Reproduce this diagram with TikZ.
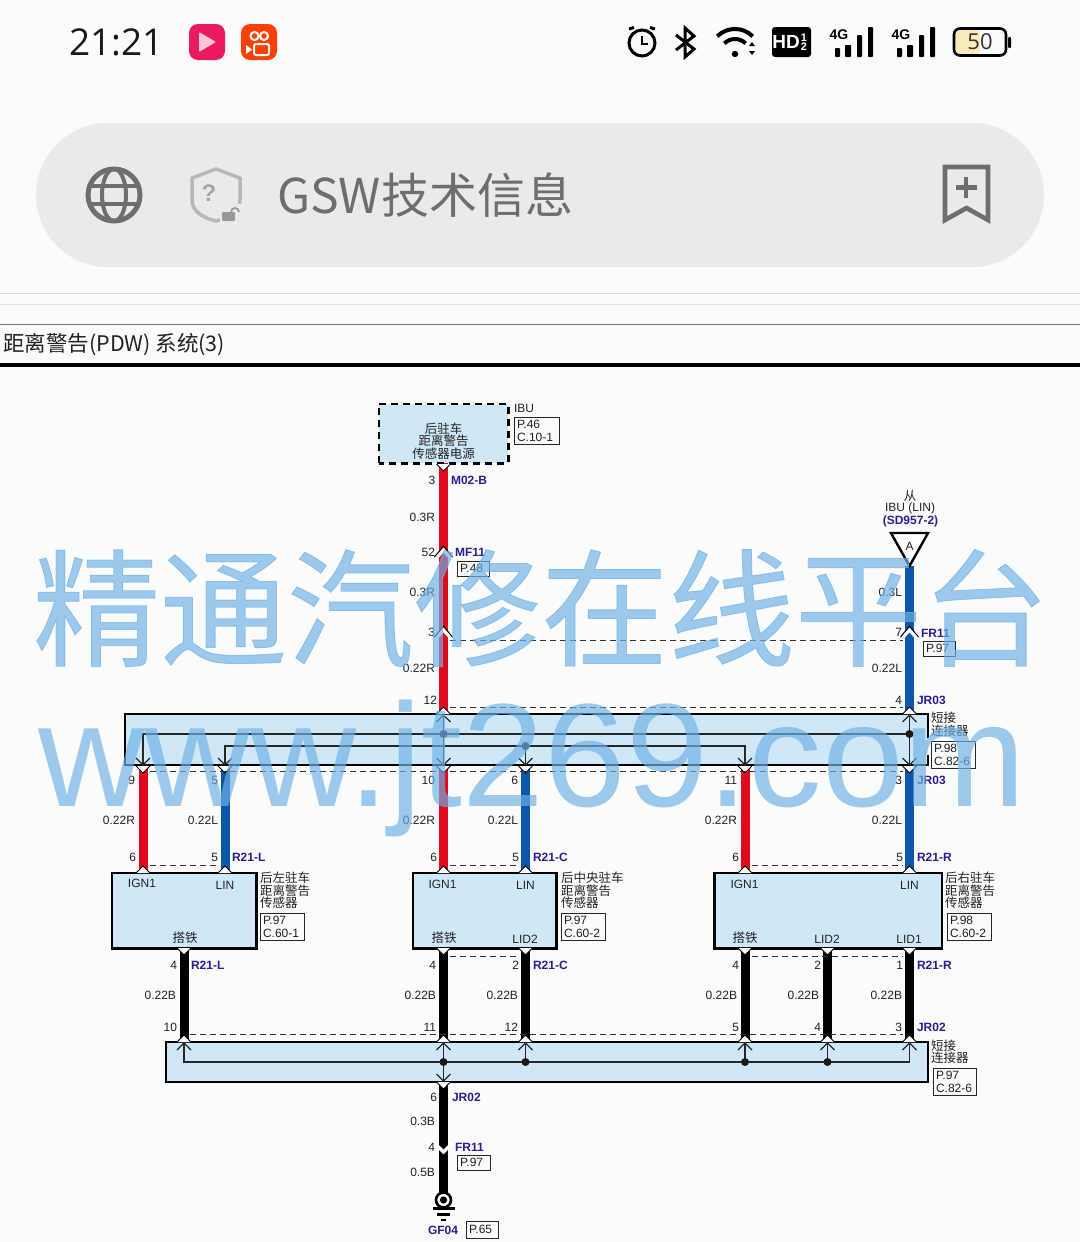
\documentclass[tikz,border=0pt]{standalone}
\usepackage{fontspec}
\setmainfont{Liberation Sans}
\newfontfamily\cjk{Noto Sans CJK SC}
\newfontfamily\cjkw[FakeBold=0.6]{Noto Sans CJK SC}
\newfontfamily\ui{Open Sans}
\usetikzlibrary{calc}
\definecolor{bgc}{HTML}{FBFBFB}
\definecolor{barc}{HTML}{EAEAEA}
\definecolor{ico}{HTML}{6E6E6E}
\definecolor{boxc}{HTML}{CFE8F7}
\definecolor{redw}{HTML}{E00A1E}
\definecolor{bluew}{HTML}{0A57A8}
\definecolor{codec}{HTML}{2A1F8F}
\definecolor{wm}{HTML}{6FB0E6}
\definecolor{txt}{HTML}{222222}
\definecolor{battc}{HTML}{FBEBB9}
\newcounter{nn}
\tikzset{
  x=1pt,y=-1pt,
  tx/.style={inner sep=0pt,outer sep=0pt,text=txt,font=\fontsize{12}{13}\selectfont},
  cn/.style={inner sep=0pt,outer sep=0pt,text=txt,align=left,font=\cjk\fontsize{12.5}{12.6}\selectfont},
  codel/.style={inner sep=0pt,outer sep=0pt,text=codec,font=\bfseries\fontsize{12}{13}\selectfont},
  refb/.style={draw=black!85,line width=.9pt,fill=bgc,inner ysep=0pt,inner xsep=3pt,outer sep=0pt,align=left,text=txt,
     font=\fontsize{12}{13}\selectfont,anchor=north west},
  wirew/.style={line width=9pt},
  conbox/.style={fill=boxc},
  edgeb/.style={draw=black,line width=2.2pt},
  shield/.style={draw=black!80,line width=.9pt,dash pattern=on 6pt off 4pt},
  innerl/.style={draw=black!85,line width=1.2pt},
  wmk/.style={text=wm,opacity=.68,inner sep=0pt,outer sep=0pt},
}
\newcommand{\txR}[3]{\stepcounter{nn}\node[tx,anchor=east] (n\arabic{nn}) at (#1,#2) {#3};}
\newcommand{\txC}[3]{\stepcounter{nn}\node[tx] (n\arabic{nn}) at (#1,#2) {#3};}
\newcommand{\cdL}[3]{\stepcounter{nn}\node[codel,anchor=west] (n\arabic{nn}) at (#1,#2) {#3};}
\newcommand{\cnL}[3]{\stepcounter{nn}\node[cn,anchor=north west] (n\arabic{nn}) at (#1,#2) {#3};}
\newcommand{\cnC}[3]{\stepcounter{nn}\node[cn,align=center] (n\arabic{nn}) at (#1,#2) {#3};}
% x1 y1 w h text
\newcommand{\rbox}[5]{\stepcounter{nn}\node[refb,minimum height=#4pt,text width=\dimexpr#3pt-6pt\relax] (n\arabic{nn}) at (#1,#2) {#5};}
\newcommand{\pinU}[2]{\fill[white] (#1-7,#2) -- (#1,#2-7) -- (#1+7,#2) -- cycle; \draw[black,line width=1pt] (#1-7,#2) -- (#1,#2-7) -- (#1+7,#2);}
\newcommand{\pinD}[2]{\fill[white] (#1-7,#2) -- (#1,#2+7) -- (#1+7,#2) -- cycle; \draw[black,line width=1pt] (#1-7,#2) -- (#1,#2+7) -- (#1+7,#2);}
\newcommand{\arrD}[2]{\draw[innerl] (#1-7,#2-7) -- (#1,#2) -- (#1+7,#2-7);}
\newcommand{\arrU}[2]{\draw[innerl] (#1-7,#2+7) -- (#1,#2) -- (#1+7,#2+7);}
\newcommand{\chevU}[2]{\draw[white,line width=3.2pt] (#1-8,#2+13) -- (#1,#2+4) -- (#1+8,#2+13); \draw[black,line width=1pt] (#1-9,#2+11) -- (#1,#2) -- (#1+9,#2+11);}
\newcommand{\chevD}[2]{\draw[white,line width=3.4pt] (#1-9,#2-11) -- (#1,#2-2) -- (#1+9,#2-11);}
\newcommand{\dotj}[2]{\fill[black!90] (#1,#2) circle (4pt);}
\newcommand{\sig}[1]{%
  \stepcounter{nn}\node[inner sep=0pt,font=\bfseries\fontsize{14}{14}\selectfont,text=black] (n\arabic{nn}) at (#1+10,35) {4G};
  \fill[black,rounded corners=.8pt] (#1+6,48) rectangle (#1+11,57);
  \fill[black,rounded corners=.8pt] (#1+16,45) rectangle (#1+22,57);
  \fill[black,rounded corners=.8pt] (#1+28,35) rectangle (#1+33,57);
  \fill[black,rounded corners=.8pt] (#1+39,27) rectangle (#1+44,57);
}
\begin{document}
\begin{tikzpicture}
\useasboundingbox (0,0) rectangle (1080,1242);
\fill[bgc] (0,0) rectangle (1080,1242);
% ---------- status bar
\node[inner sep=0pt,anchor=west,font=\ui\fontsize{37}{37}\selectfont,text=black!90] (clock) at (69,42) {21:21};
\fill[rounded corners=9pt,fill=redw!75!magenta!90!pink] (189,24) rectangle (225,60);
\fill[white,opacity=.75,rounded corners=1pt] (199,32) -- (216,42) -- (199,52) -- cycle;
\fill[rounded corners=9pt,fill=orange!50!red] (241,24) rectangle (277,60);
\draw[white,line width=2pt] (254.5,36) circle (4pt) (264,36) circle (4pt);
\draw[white,line width=2pt,rounded corners=2pt] (254,44) rectangle (269,55);
\fill[white] (246,45) -- (252,49.5) -- (246,54) -- cycle;
% alarm
\draw[black,line width=3pt] (642,43) circle (13pt);
\draw[black,line width=2.4pt] (642,36) -- (642,44) -- (648,44);
\draw[black,line width=3pt] (629,29) -- (634,27.5) (655,29) -- (650,27.5);
% bluetooth
\draw[black,line width=3pt,line join=miter] (676,35) -- (694,49) -- (685,57) -- (685,28) -- (694,36) -- (676,50);
% wifi
\fill[black] (735,54) circle (3.2pt);
\draw[black,line width=4pt] (717.3,36.3) arc[start angle=135,end angle=45,radius=25pt];
\draw[black,line width=4pt] (724.4,43.4) arc[start angle=135,end angle=45,radius=15pt];
\fill[black] (749,46) -- (752,42) -- (755,46) -- cycle (749,51) -- (752,55) -- (755,51) -- cycle;
% HD
\fill[black,rounded corners=3pt] (772,27) rectangle (811,57);
\node[inner sep=0pt,text=white,font=\bfseries\fontsize{19}{19}\selectfont] (hd) at (786,42) {HD};
\node[inner sep=0pt,text=white,font=\bfseries\fontsize{11}{11}\selectfont,align=center] (hdn) at (804,42) {1\\[-2pt]2};
\sig{829} \sig{891}
% battery
\fill[battc,rounded corners=4pt] (955,29) rectangle (980,55);
\draw[black,line width=2.6pt,rounded corners=6pt] (954,28.5) rectangle (1006,55.5);
\fill[black,rounded corners=1pt] (1008,37) rectangle (1011,48);
\node[inner sep=0pt,font=\ui\fontsize{22}{22}\selectfont,text=black!80] (batt) at (980,42) {50};
% ---------- address bar
\fill[barc,rounded corners=72pt] (36,123) rectangle (1044,267);
\draw[ico,line width=5pt] (114,195) circle (26pt);
\draw[ico,line width=4pt] (114,195) ellipse (12pt and 26pt);
\draw[ico,line width=4pt] (90,186) -- (138,186) (90,204) -- (138,204);
\draw[black!28,line width=3.5pt,line join=round] (216,169) -- (240,178) -- (240,200) .. controls (240,212) and (228,218) .. (216,221) .. controls (204,218) and (192,212) .. (192,200) -- (192,178) -- cycle;
\node[inner sep=0pt,text=black!35,font=\bfseries\fontsize{24}{24}\selectfont] (qm) at (209,193) {?};
\fill[barc] (220,204) rectangle (242,224);
\fill[black!40,rounded corners=1pt] (222,212) rectangle (235,221);
\draw[black!40,line width=1.8pt] (231,212) arc[start angle=180,end angle=0,radius=4pt];
\node[inner sep=0pt,anchor=west,text=ico,font=\cjk\fontsize{48}{48}\selectfont] (url) at (277,195) {GSW技术信息};
\draw[ico,line width=4.6pt,line join=miter] (945,220) -- (945,167) -- (988,167) -- (988,220) -- (966.5,208) -- cycle;
\draw[ico,line width=4.2pt] (966,177) -- (966,198) (955.5,187.5) -- (977,187.5);
% ---------- page rules & title
\draw[black!15,line width=1pt] (0,293.5) -- (1080,293.5);
\draw[black!12,line width=1pt] (0,304.5) -- (1080,304.5);
\draw[black!55,line width=1pt] (0,324.5) -- (1080,324.5);
\draw[black,line width=3.5pt] (0,365) -- (1080,365);
\node[inner sep=0pt,anchor=west,text=txt,font=\cjk\fontsize{21.5}{22}\selectfont] (title) at (3,344.5) {距离警告(PDW) 系统(3)};
% ---------- named pins
\node[draw=none,fill=boxc,minimum width=129pt,minimum height=59pt,inner sep=0pt] (ibu) at (443.5,433.5) {};
\coordinate (ibuP) at (443.5,463);
\node[inner sep=0pt,minimum width=802pt,minimum height=51pt] (sc1) at (527,739.5) {};
\node[inner sep=0pt,minimum width=762pt,minimum height=40pt] (sc2) at (547,1062) {};
\node[inner sep=0pt,minimum width=144pt,minimum height=75pt,anchor=north west] (sL) at (112,873) {};
\node[inner sep=0pt,minimum width=143pt,minimum height=75pt,anchor=north west] (sC) at (413,873) {};
\node[inner sep=0pt,minimum width=227pt,minimum height=75pt,anchor=north west] (sR) at (714.5,873) {};
\coordinate (aTip) at (909.5,566);
\coordinate (gnd) at (443.5,1200);
% ---------- wires
\draw[wirew,redw] (ibuP) -- (sc1.north -| ibuP);
\draw[wirew,bluew] (aTip) -- (sc1.north -| aTip);
\foreach \px/\pc in {143/redw,225/bluew,443.5/redw,525.5/bluew,745/redw,909.5/bluew}{
  \draw[wirew,\pc] (\px,765) -- (\px,873);
}
\foreach \px in {184,443.5,525.5,745,827.5,909.5}{
  \draw[wirew,black] (\px,948) -- (\px,1042);
}
\draw[wirew,black] (sc2.south -| gnd) -- (gnd);
% ---------- IBU box
\draw[black,line width=2.6pt,dash pattern=on 7pt off 5pt] (ibu.south west) rectangle (ibu.north east);
\cnC{443.5}{441}{后驻车\\距离警告\\传感器电源}
% short connectors
\fill[conbox] (125,714) rectangle (928,765);
\draw[edgeb] (928,738) -- (928,714) -- (125,714) -- (125,765) -- (928,765) -- (928,755);
\fill[conbox] (166,1042) rectangle (928,1082);
\draw[edgeb] (166,1042) rectangle (928,1082);
% sensors
\foreach \bn in {sL,sC,sR}{
  \draw[edgeb,fill=boxc] (\bn.north west) rectangle (\bn.south east);
}
% inner of connector 1
\draw[innerl] (143,765) -- (143,734) -- (909.5,734);
\draw[innerl] (225,765) -- (225,746) -- (745,746) -- (745,765);
\draw[innerl] (443.5,715) -- (443.5,765);
\draw[innerl] (525.5,746) -- (525.5,765);
\draw[innerl] (909.5,715) -- (909.5,765);
\dotj{443.5}{734} \dotj{525.5}{746} \dotj{909.5}{734}
\foreach \px in {143,225,443.5,525.5,745,909.5}{ \arrD{\px}{765} }
\arrU{443.5}{715} \arrU{909.5}{715}
% inner of connector 2
\draw[innerl] (184,1043) -- (184,1062) -- (909.5,1062) -- (909.5,1043);
\draw[innerl] (443.5,1043) -- (443.5,1081);
\foreach \px in {525.5,745,827.5}{ \draw[innerl] (\px,1043) -- (\px,1062); \dotj{\px}{1062} }
\dotj{443.5}{1062}
\foreach \px in {184,443.5,525.5,745,827.5,909.5}{ \arrU{\px}{1043} }
\arrD{443.5}{1081}
% pins
\pinD{443.5}{464}
\pinU{443.5}{714} \pinU{909.5}{714}
\foreach \px in {143,225,443.5,525.5,745,909.5}{ \pinD{\px}{766} \pinU{\px}{873} }
\foreach \px in {184,443.5,525.5,745,827.5,909.5}{ \pinD{\px}{948} \pinU{\px}{1042} }
\pinD{443.5}{1082}
\chevU{443.5}{546} \chevU{443.5}{626} \chevU{909.5}{626} \chevD{443.5}{1154}
% dashed shields
\draw[shield] (450,640.5) -- (903,640.5);
\draw[shield] (450,707.5) -- (903,707.5);
\draw[shield] (150,771.5) -- (903,771.5);
\draw[shield] (150,865.5) -- (218,865.5);
\draw[shield] (450,865.5) -- (519,865.5);
\draw[shield] (752,865.5) -- (903,865.5);
\draw[shield] (450,956.5) -- (519,956.5);
\draw[shield] (752,956.5) -- (903,956.5);
\draw[shield] (190,1034.5) -- (903,1034.5);
% triangle
\draw[black,line width=2.4pt,fill=white,line join=miter] (891,533) -- (928,533) -- (aTip) -- cycle;
\node[inner sep=0pt,font=\fontsize{12}{12}\selectfont,text=txt] (aLab) at (909.5,546) {A};
% ground
\draw[black,line width=2.6pt,fill=white] (gnd) circle (7.5pt);
\fill[black] (gnd) circle (3.6pt);
\draw[black,line width=2.4pt] (432.5,1208.5) -- (454.5,1208.5);
\draw[black,line width=2.2pt] (437,1214.5) -- (450,1214.5);
\draw[black,line width=2pt] (441,1219.5) -- (446,1219.5);
% ---------- texts: wire A
\txC{432}{480.5}{3} \cdL{451}{480.5}{M02-B}
\txR{435}{517.5}{0.3R}
\txR{435}{552.5}{52} \cdL{455}{552.5}{MF11}
\rbox{457}{561}{32}{15}{P.48}
\txR{435}{592.5}{0.3R}
\txR{435}{632.5}{3}
\txR{435}{668.5}{0.22R}
\txR{437}{700}{12}
% IBU refs
\node[tx,anchor=west] (ibuT) at (514,408) {IBU};
\rbox{514}{417}{45}{27}{P.46\\C.10-1}
% right top
\cnC{910}{496}{从}
\txC{910}{508.5}{IBU (LIN)}
\node[codel] (sd) at (910.5,521.5) {(SD957-2)};
\txR{902}{592.5}{0.3L}
\txR{902}{632.5}{7} \cdL{921}{633.5}{FR11}
\rbox{923}{641}{32}{15}{P.97}
\txR{902}{668.5}{0.22L}
\txR{902}{700}{4} \cdL{917}{700}{JR03}
\cnL{931}{712}{短接\\连接器}
\rbox{931}{741}{44}{27}{P.98\\C.82-6}
% mid row
\txR{135}{780}{9} \txR{218}{780}{5} \txR{435}{780}{10} \txR{518}{780}{6} \txR{737}{780}{11} \txR{902}{780}{3}
\cdL{917}{780}{JR03}
\txR{135}{820.5}{0.22R} \txR{218}{820.5}{0.22L} \txR{435}{820.5}{0.22R} \txR{518}{820.5}{0.22L} \txR{737}{820.5}{0.22R} \txR{902}{820.5}{0.22L}
\txR{136}{857.5}{6} \txR{218}{857.5}{5} \txR{437}{857.5}{6} \txR{519}{857.5}{5} \txR{739}{857.5}{6} \txR{903}{857.5}{5}
\cdL{232}{857.5}{R21-L} \cdL{533}{857.5}{R21-C} \cdL{917}{857.5}{R21-R}
% sensors text
\txC{142}{883.5}{IGN1} \txC{225}{885}{LIN}
\cnC{185}{938}{搭铁}
\txC{442.5}{884}{IGN1} \txC{525.5}{885}{LIN}
\cnC{444}{938}{搭铁} \txC{525}{939}{LID2}
\txC{744.5}{884}{IGN1} \txC{909.5}{885}{LIN}
\cnC{745}{938}{搭铁} \txC{827}{939}{LID2} \txC{909}{939}{LID1}
\cnL{260}{872}{后左驻车\\距离警告\\传感器}
\rbox{260}{913.5}{44}{27}{P.97\\C.60-1}
\cnL{561}{872}{后中央驻车\\距离警告\\传感器}
\rbox{561}{913.5}{44}{27}{P.97\\C.60-2}
\cnL{945}{872}{后右驻车\\距离警告\\传感器}
\rbox{947}{913.5}{44}{27}{P.98\\C.60-2}
% bottom row
\txR{177}{965}{4} \txR{436}{965}{4} \txR{519}{965}{2} \txR{739}{965}{4} \txR{821}{965}{2} \txR{903}{965}{1}
\cdL{191}{965}{R21-L} \cdL{533}{965}{R21-C} \cdL{917}{965}{R21-R}
\txR{176}{995.5}{0.22B} \txR{436}{995.5}{0.22B} \txR{518}{995.5}{0.22B} \txR{737}{995.5}{0.22B} \txR{819}{995.5}{0.22B} \txR{902}{995.5}{0.22B}
\txR{177}{1027.5}{10} \txR{436}{1027.5}{11} \txR{518}{1027.5}{12} \txR{739}{1027.5}{5} \txR{821}{1027.5}{4} \txR{902}{1027.5}{3}
\cdL{917}{1027.5}{JR02}
\cnL{931}{1039.5}{短接\\连接器}
\rbox{933}{1068.5}{43}{27}{P.97\\C.82-6}
\txR{437}{1097.5}{6} \cdL{452}{1097.5}{JR02}
\txR{435}{1121.5}{0.3B}
\txR{435}{1147.5}{4} \cdL{455}{1147.5}{FR11}
\rbox{457}{1155}{33}{15.5}{P.97}
\txR{435}{1172.5}{0.5B}
\cdL{428}{1230.5}{GF04}
\rbox{466}{1221}{32}{17}{P.65}
% ---------- watermark
\node[wmk,anchor=west,font=\cjkw\fontsize{127}{127}\selectfont] (wm1) at (33,608) {精通汽修在线平台};
\node[wmk,anchor=base west,font=\fontsize{147}{147}\selectfont] (wm2) at (38,806) {www.jt269.com};
\end{tikzpicture}
\end{document}
